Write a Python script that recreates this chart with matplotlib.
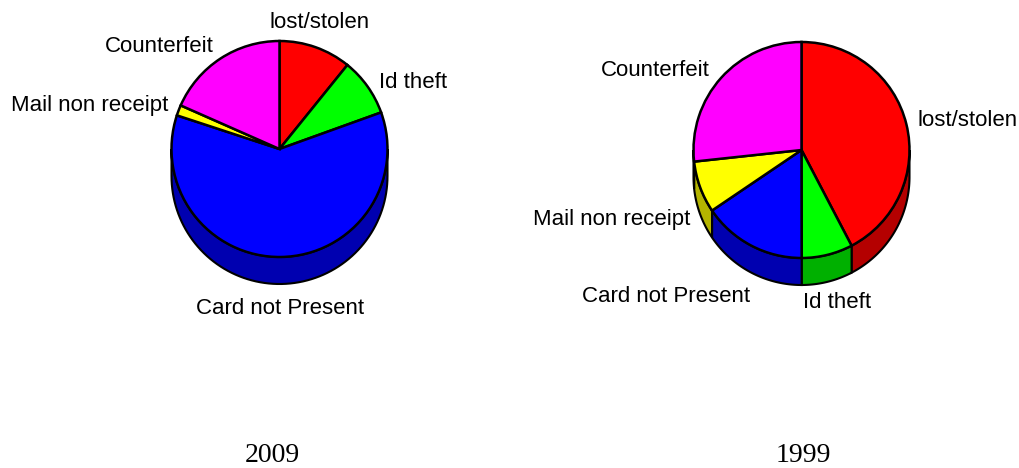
import matplotlib.pyplot as plt
import numpy as np

# UK card fraud losses by type (GBP millions), clockwise from 12 o'clock
names = ["lost/stolen", "Id theft", "Card not Present", "Mail non receipt", "Counterfeit"]
losses_2009 = [47.6, 38.2, 266.4, 6.9, 80.9]
losses_1999 = [79.7, 14.4, 29.3, 14.6, 50.3]

top_colors = ["#ff0000", "#00ff00", "#0000ff", "#ffff00", "#ff00ff"]
side_colors = ["#b40000", "#00b000", "#0000b0", "#b4b400", "#b000b0"]

H = 468
R = 108
DEPTH = 27


def side_walls(ax, values, cx, cy):
    # the visible rim of the cylinder is the lower half of the circle
    frac = np.cumsum([0] + list(values)) / np.sum(values)
    for i in range(len(values)):
        a_start = 90 - 360 * frac[i]
        a_end = 90 - 360 * frac[i + 1]
        for k in (-1, 0, 1):
            lo = max(a_end, -180 + 360 * k)
            hi = min(a_start, 0 + 360 * k)
            if hi - lo <= 0.01:
                continue
            t = np.radians(np.linspace(lo, hi, 80))
            xs = cx + R * np.cos(t)
            ys = cy + R * np.sin(t)
            pts = np.concatenate([np.c_[xs, ys], np.c_[xs, ys - DEPTH][::-1]])
            ax.add_patch(plt.Polygon(pts, closed=True, facecolor=side_colors[i],
                                     edgecolor="black", linewidth=1.5, zorder=1))


fig = plt.figure(figsize=(10.2, 4.68), dpi=100)
ax = fig.add_axes([0, 0, 1, 1])

for values, cx, cy in [(losses_2009, 279.5, H - 149), (losses_1999, 801.5, H - 150)]:
    side_walls(ax, values, cx, cy)
    wedges, _ = ax.pie(values, colors=top_colors, startangle=90, counterclock=False,
                       center=(cx, cy), radius=R, frame=True,
                       wedgeprops=dict(edgecolor="black", linewidth=1.8))
    for w in wedges:
        w.set_zorder(2)

lab = dict(fontsize=16, family="Liberation Sans", va="center")
# 2009 labels
ax.text(320, H - 22, "lost/stolen", ha="center", **lab)
ax.text(379, H - 82, "Id theft", ha="left", **lab)
ax.text(214, H - 47, "Counterfeit", ha="right", **lab)
ax.text(168, H - 105, "Mail non receipt", ha="right", **lab)
ax.text(280, H - 309, "Card not Present", ha="center", **lab)
# 1999 labels
ax.text(710, H - 70, "Counterfeit", ha="right", **lab)
ax.text(918, H - 120, "lost/stolen", ha="left", **lab)
ax.text(690, H - 219, "Mail non receipt", ha="right", **lab)
ax.text(666, H - 297, "Card not Present", ha="center", **lab)
ax.text(803, H - 303, "Id theft", ha="left", **lab)

ttl = dict(fontsize=20, family="Liberation Serif", ha="center", va="center")
ax.text(272, H - 455, "2009", **ttl)
ax.text(803, H - 455, "1999", **ttl)

ax.set_xlim(0, 1020)
ax.set_ylim(0, H)
ax.set_aspect("auto")
ax.axis("off")

fig.savefig("out.png", dpi=100)
